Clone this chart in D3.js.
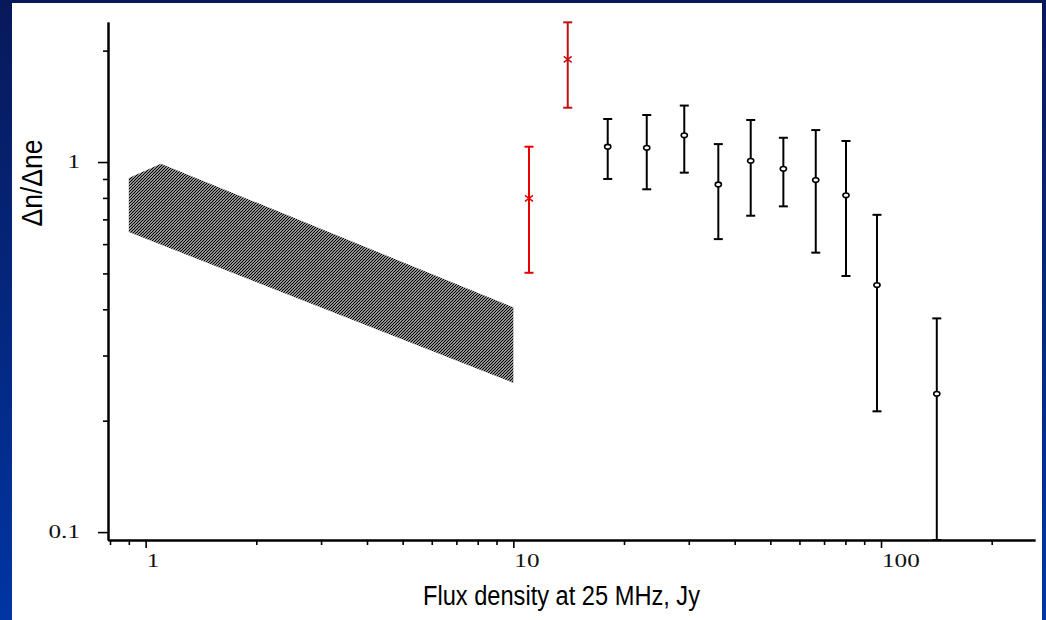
<!DOCTYPE html>
<html><head><meta charset="utf-8">
<script src="https://cdn.jsdelivr.net/npm/d3@7"></script>
<style>html,body{margin:0;padding:0;background:#fff;}svg{display:block;}</style>
</head><body>
<svg id="c" width="1046" height="620"></svg>
<script>
// ---- data ----
const redFlux   = [11.03, 14.06];
const redVal    = [0.798, 1.895];
const redHi     = [1.10, 2.385];
const redLo     = [0.502, 1.402];
const redColors = ["#e60000", "#c01010"];

const blackFlux = [18.06, 23.06, 29.17, 36.10, 44.22, 54.25, 66.45, 80.31, 97.5, 141.8];
const blackVal  = [1.10, 1.093, 1.181, 0.870, 1.008, 0.959, 0.894, 0.813, 0.465, 0.2365];
const blackHi   = [1.307, 1.34, 1.421, 1.118, 1.299, 1.163, 1.22, 1.14, 0.72, 0.378];
const blackLo   = [0.90, 0.844, 0.936, 0.619, 0.716, 0.759, 0.569, 0.492, 0.212, 0.0952];

const bandPolyX = [0.9, 1.1, 10, 10, 0.9];
const bandPolyY = [0.905, 0.99, 0.405, 0.253, 0.647];

const xMajor = [1, 10, 100];
const xMajorLabels = ["1", "10", "100"];
const xMinor = [0.8, 0.9, 2, 3, 4, 5, 6, 7, 8, 9, 20, 30, 40, 50, 60, 70, 80, 90, 200];
const yMajor = [0.1, 1];
const yMajorLabels = ["0.1", "1"];
const yMinor = [0.2, 0.3, 0.4, 0.5, 0.6, 0.7, 0.8, 0.9, 2];

const xTitle = "Flux density at 25 MHz, Jy";
const yTitle = "\u0394n/\u0394ne";

// ---- layout ----
const svg = d3.select("#c");
const defs = svg.append("defs");
const bg = defs.append("linearGradient").attr("id","bg").attr("x1",0).attr("y1",0).attr("x2",0).attr("y2",1);
bg.append("stop").attr("offset","0%").attr("stop-color","#08195a");
bg.append("stop").attr("offset","100%").attr("stop-color","#0035a3");
svg.append("rect").attr("width",1046).attr("height",620).attr("fill","url(#bg)");
svg.append("rect").attr("x",12).attr("y",3).attr("width",1030).attr("height",617).attr("fill","#fff");

const pat = defs.append("pattern").attr("id","hatch").attr("patternUnits","userSpaceOnUse")
  .attr("width",3).attr("height",3);
pat.append("rect").attr("width",3).attr("height",3).attr("fill","#fff");
pat.append("path").attr("d","M-1,1 L1,-1 M0,3 L3,0 M2,4 L4,2")
  .attr("stroke","#000").attr("stroke-width",1.25);

const x = d3.scaleLog().domain([0.790, 262.3]).range([108, 1035]);
const y = d3.scaleLog().domain([0.0952, 2.39]).range([540, 22]).clamp(true);

// band
const band = d3.range(bandPolyX.length).map(i => [x(bandPolyX[i]), y(bandPolyY[i])]);
svg.append("path").attr("d", d3.line()(band) + "Z").attr("fill","url(#hatch)").attr("stroke","none");

// axes
const gx = svg.append("g").attr("transform","translate(0,540)");
gx.call(d3.axisBottom(x).tickValues(xMajor).tickSize(8).tickSizeOuter(0).tickFormat(""));
const gxm = svg.append("g").attr("transform","translate(0,540)");
gxm.call(d3.axisBottom(x).tickValues(xMinor).tickSize(5).tickSizeOuter(0).tickFormat(""));
const gy = svg.append("g").attr("transform","translate(108,0)");
gy.call(d3.axisLeft(y).tickValues(yMajor).tickSize(10).tickSizeOuter(0).tickFormat(""));
const gym = svg.append("g").attr("transform","translate(108,0)");
gym.call(d3.axisLeft(y).tickValues(yMinor).tickSize(5).tickSizeOuter(0).tickFormat(""));
svg.selectAll(".domain").attr("stroke","#000").attr("stroke-width",2);
svg.selectAll(".tick line").attr("stroke","#000").attr("stroke-width",1.6);

// tick labels (serif, wide)
svg.append("g").selectAll("text").data(xMajor).join("text")
  .attr("transform", (d) => `translate(${x(d)+1},567) scale(1.4,1)`)
  .attr("font-family","'Liberation Serif','Times New Roman',serif").attr("font-size",18)
  .attr("fill","#111").text((d,i) => xMajorLabels[i]);
svg.append("g").selectAll("text").data(yMajor).join("text")
  .attr("transform", (d) => `translate(80,${y(d)+6}) scale(1.4,1)`)
  .attr("text-anchor","end")
  .attr("font-family","'Liberation Serif','Times New Roman',serif").attr("font-size",18)
  .attr("fill","#111").text((d,i) => yMajorLabels[i]);

// titles
svg.append("text").attr("x",423).attr("y",605)
  .attr("font-family","'Liberation Sans',Arial,sans-serif").attr("font-size",27)
  .attr("textLength",277).attr("lengthAdjust","spacingAndGlyphs")
  .attr("fill","#000").text(xTitle);
svg.append("text").attr("transform","translate(42,183) rotate(-90)").attr("text-anchor","middle")
  .attr("font-family","'Liberation Sans',Arial,sans-serif").attr("font-size",29)
  .attr("textLength",87).attr("lengthAdjust","spacingAndGlyphs")
  .attr("fill","#000").text(yTitle);

// error bars
function bars(flux, val, hi, lo, colorFn, marker) {
  const g = svg.append("g");
  flux.forEach((f, i) => {
    const cx = x(f), col = colorFn(i);
    g.append("line").attr("x1",cx).attr("x2",cx).attr("y1",y(hi[i])).attr("y2",y(lo[i]))
      .attr("stroke",col).attr("stroke-width",2);
    [hi[i], lo[i]].forEach(v => g.append("line").attr("x1",cx-4.5).attr("x2",cx+4.5)
      .attr("y1",y(v)).attr("y2",y(v)).attr("stroke",col).attr("stroke-width",2));
    const cy = y(val[i]);
    if (marker === "x") {
      g.append("path").attr("d",`M${cx-4},${cy-3}L${cx+4},${cy+3}M${cx-4},${cy+3}L${cx+4},${cy-3}`)
        .attr("stroke",col).attr("stroke-width",1.5);
    } else {
      g.append("ellipse").attr("cx",cx).attr("cy",cy).attr("rx",3.1).attr("ry",2.3)
        .attr("fill","#fff").attr("stroke",col).attr("stroke-width",1.6);
    }
  });
}
bars(redFlux, redVal, redHi, redLo, i => redColors[i], "x");
bars(blackFlux, blackVal, blackHi, blackLo, () => "#000", "o");
</script>
</body></html>
